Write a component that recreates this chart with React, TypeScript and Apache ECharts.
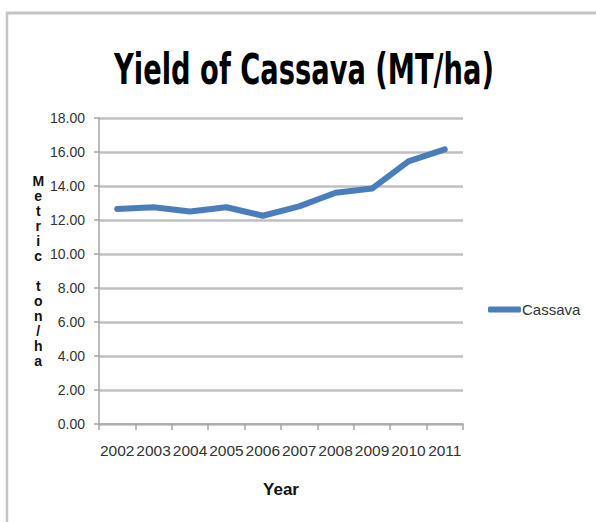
import React, { useEffect, useRef } from "react";
import * as echarts from "echarts";

const years = ["2002", "2003", "2004", "2005", "2006", "2007", "2008", "2009", "2010", "2011"];
const cassava = [12.65, 12.75, 12.5, 12.75, 12.25, 12.8, 13.6, 13.85, 15.45, 16.15];
const yTicks = { min: 0, max: 18, interval: 2 };
const titleText = "Yield of Cassava (MT/ha)";
const yName = "Metric ton/ha";
const xName = "Year";
const seriesName = "Cassava";

const TITLE_FONT = "'DejaVu Sans Condensed', 'DejaVu Sans', sans-serif";
const FONT = "'Liberation Sans', Arial, sans-serif";

function measure(text: string, font: string): number {
  const c = document.createElement("canvas");
  const ctx = c.getContext("2d");
  if (!ctx) return text.length * 18;
  ctx.font = font;
  return ctx.measureText(text).width;
}

export default function App() {
  const ref = useRef<HTMLDivElement>(null);
  useEffect(() => {
    if (!ref.current) return;
    const chart = echarts.init(ref.current, undefined, { renderer: "svg" });
    const titleSize = 42;
    const tw = measure(titleText, `bold ${titleSize}px ${TITLE_FONT}`);
    const titleScale = 380 / tw;
    chart.setOption({
      animation: false,
      backgroundColor: "#ffffff",
      graphic: [
        { type: "line", shape: { x1: 6, y1: 13, x2: 596, y2: 13 }, style: { stroke: "#c4c4c4", lineWidth: 3 } },
        { type: "line", shape: { x1: 7, y1: 12, x2: 7, y2: 522 }, style: { stroke: "#c4c4c4", lineWidth: 2.5 } },
        {
          type: "text",
          x: 304,
          y: 70,
          scaleX: titleScale,
          style: {
            text: titleText,
            font: `bold ${titleSize}px ${TITLE_FONT}`,
            fill: "#000000",
            textAlign: "center",
            textVerticalAlign: "middle",
          },
        },
      ],
      legend: {
        left: 488,
        top: 302,
        padding: 0,
        orient: "vertical",
        icon: "roundRect",
        itemWidth: 33,
        itemHeight: 6,
        itemGap: 4,
        data: [seriesName],
        textStyle: { fontFamily: FONT, fontSize: 15, color: "#333333", padding: [0, 0, 0, -4] },
      },
      grid: { left: 99, top: 118, right: 133, bottom: 98 },
      xAxis: {
        type: "category",
        data: years,
        boundaryGap: true,
        name: xName,
        nameLocation: "middle",
        nameGap: 57,
        nameTextStyle: { fontFamily: FONT, fontWeight: "bold", fontSize: 17, color: "#111111" },
        axisLine: { lineStyle: { color: "#a6a6a6", width: 1.5 } },
        axisTick: { show: true, length: 6, lineStyle: { color: "#a6a6a6", width: 1.5 } },
        axisLabel: {
          interval: 0,
          hideOverlap: false,
          margin: 18,
          fontFamily: FONT,
          fontSize: 15.5,
          color: "#333333",
        },
        splitLine: { show: false },
      },
      yAxis: {
        type: "value",
        min: yTicks.min,
        max: yTicks.max,
        interval: yTicks.interval,
        name: yName.split("").join("\n"),
        nameLocation: "middle",
        nameRotate: 0,
        nameGap: 56,
        nameTextStyle: {
          fontFamily: FONT,
          fontWeight: "bold",
          fontSize: 14,
          lineHeight: 15,
          color: "#111111",
          align: "center",
          verticalAlign: "middle",
        },
        axisLine: { show: true, lineStyle: { color: "#a6a6a6", width: 1.5 } },
        axisTick: { show: true, length: 5, lineStyle: { color: "#a6a6a6", width: 1.5 } },
        axisLabel: {
          margin: 14,
          fontFamily: FONT,
          fontSize: 14,
          color: "#333333",
          formatter: (v: number) => v.toFixed(2),
        },
        splitLine: { show: true, lineStyle: { color: "#c0c0c0", width: 2.5 } },
      },
      series: [
        {
          name: seriesName,
          type: "line",
          data: cassava,
          showSymbol: false,
          symbol: "none",
          itemStyle: { color: "#4a7ebb" },
          lineStyle: { color: "#4a7ebb", width: 6, cap: "round", join: "round" },
        },
      ],
    });
    return () => chart.dispose();
  }, []);
  return (
    <div
      ref={ref}
      style={{ position: "fixed", left: 0, top: 0, width: 596, height: 522 }}
    />
  );
}
